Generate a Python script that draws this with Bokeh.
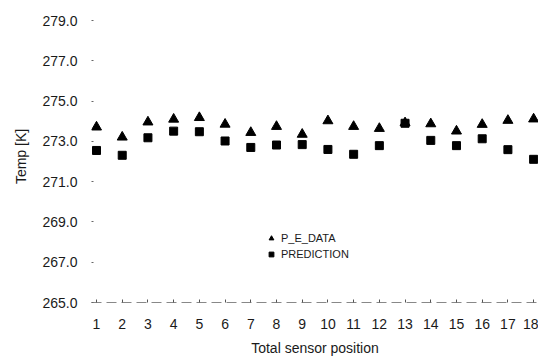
from bokeh.plotting import figure
from bokeh.models import FixedTicker, ColumnDataSource, Legend, LegendItem
from bokeh.embed import file_html
from bokeh.resources import INLINE

positions = list(range(1, 19))
p_e_data = [273.71, 273.21, 273.96, 274.10, 274.18, 273.85, 273.44, 273.74, 273.35,
             274.02, 273.74, 273.64, 273.92, 273.87, 273.51, 273.84, 274.04, 274.11]
prediction = [272.55, 272.31, 273.18, 273.51, 273.48, 273.02, 272.70, 272.82, 272.84,
              272.60, 272.36, 272.79, 273.90, 273.05, 272.79, 273.13, 272.59, 272.11]
y_ticks = [265, 267, 269, 271, 273, 275, 277, 279]
y_tick_labels = ["265.0", "267.0", "269.0", "271.0", "273.0", "275.0", "277.0", "279.0"]
x_ticks = positions
x_tick_labels = [str(v) for v in positions]
y_title = "Temp [K]"
x_title = "Total sensor position"

FONT = "Liberation Sans"

p = figure(width=538, height=358, output_backend="svg", toolbar_location=None,
           x_range=(0.805, 18.19), y_range=(265, 279.5),
           min_border_left=91, min_border_right=0, min_border_top=10, min_border_bottom=56)
p.outline_line_color = None
p.xgrid.visible = False
p.ygrid.visible = False
p.background_fill_color = "white"
p.border_fill_color = "white"

src = ColumnDataSource(dict(x=positions, pe=p_e_data, pr=prediction))
r1 = p.scatter("x", "pe", source=src, marker="triangle", size=10,
               fill_color="black", line_color="black")
r2 = p.scatter("x", "pr", source=src, marker="square", size=8,
               fill_color="black", line_color="black")

# y axis
ya = p.yaxis[0]
ya.ticker = FixedTicker(ticks=y_ticks)
ya.major_label_overrides = {t: l for t, l in zip(y_ticks, y_tick_labels)}
ya.axis_line_color = None
ya.minor_tick_line_color = None
ya.major_tick_in = 2
ya.major_tick_out = 0
ya.major_tick_line_color = "#666666"
ya.major_label_standoff = 14
ya.major_label_text_font = FONT
ya.major_label_text_font_size = "14px"
ya.major_label_text_color = "#1a1a1a"
ya.axis_label = y_title
ya.axis_label_text_font = FONT
ya.axis_label_text_font_size = "14px"
ya.axis_label_text_font_style = "normal"
ya.axis_label_text_color = "#1a1a1a"
ya.axis_label_standoff = 10

# x axis
xa = p.xaxis[0]
xa.ticker = FixedTicker(ticks=x_ticks)
xa.major_label_overrides = {t: l for t, l in zip(x_ticks, x_tick_labels)}
xa.axis_line_color = "#555555"
xa.axis_line_alpha = 0.7
xa.axis_line_dash = "10 5"
xa.minor_tick_line_color = None
xa.major_tick_in = 3
xa.major_tick_out = 0
xa.major_tick_line_color = "#555555"
xa.major_label_standoff = 16
xa.major_label_text_font = FONT
xa.major_label_text_font_size = "14px"
xa.major_label_text_color = "#1a1a1a"
xa.axis_label = x_title
xa.axis_label_text_font = FONT
xa.axis_label_text_font_size = "14px"
xa.axis_label_text_font_style = "normal"
xa.axis_label_text_color = "#1a1a1a"
xa.axis_label_standoff = 8

legend = Legend(items=[LegendItem(label="P_E_DATA", renderers=[r1]),
                       LegendItem(label="PREDICTION", renderers=[r2])],
                location=(174, 42), padding=0, spacing=4, margin=0,
                glyph_width=12, glyph_height=12, label_standoff=4,
                border_line_color=None, background_fill_alpha=0,
                label_text_font=FONT, label_text_font_size="11px",
                label_text_color="#1a1a1a")
p.add_layout(legend)

open("out.html", "w").write(file_html(p, INLINE))
